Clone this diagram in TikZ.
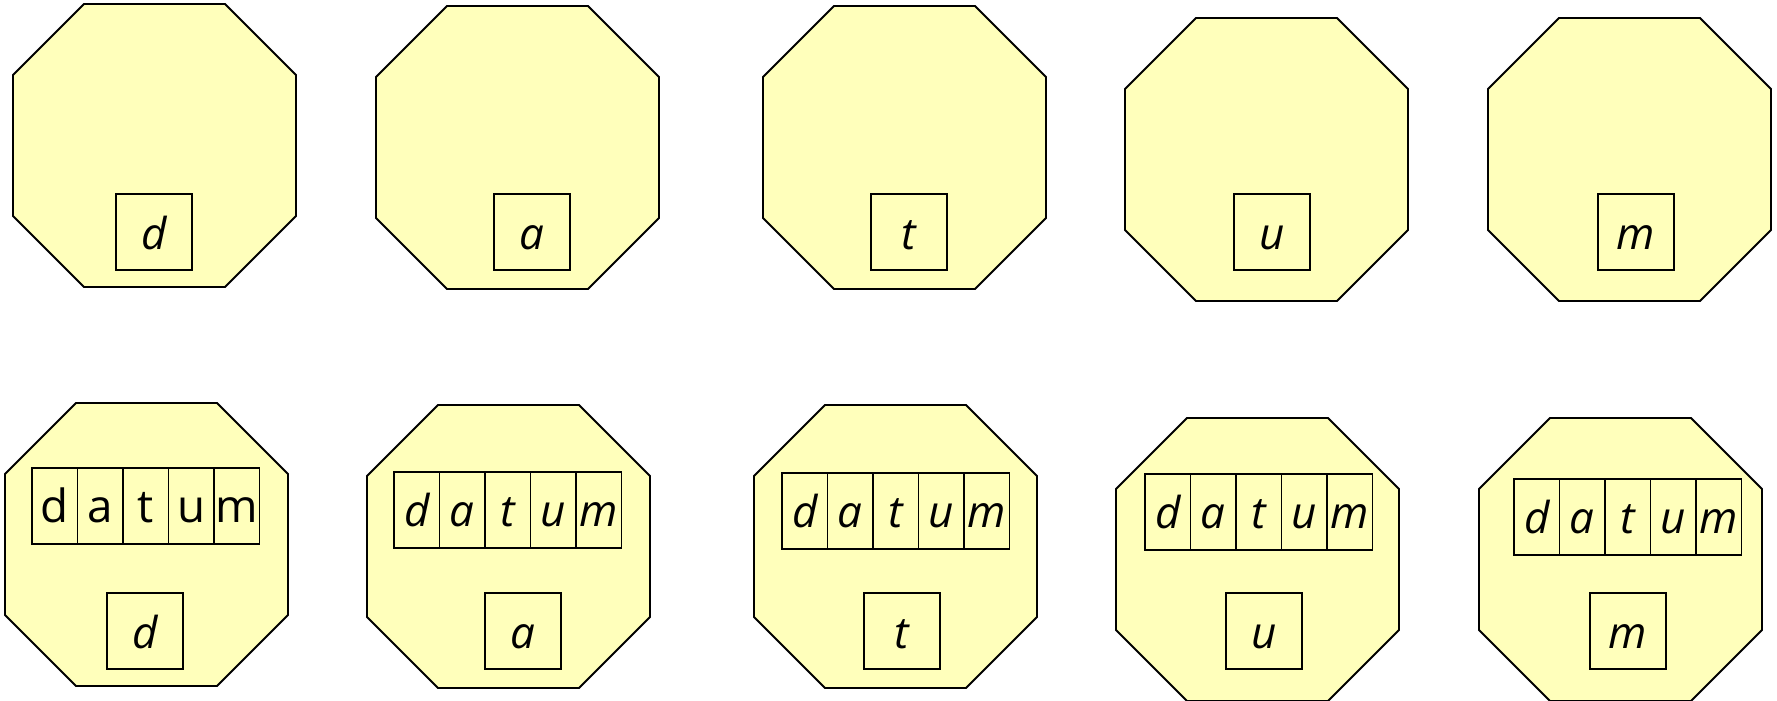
\documentclass[tikz,border=0pt]{standalone}
\usepackage{fontspec}
\setmainfont{Open Sans}
\usetikzlibrary{positioning}
\definecolor{procfill}{RGB}{255,255,187}

\begin{document}
\begin{tikzpicture}[
  x=0.2mm, y=-0.2mm,
  proc/.style={draw, fill=procfill, line width=1.1pt, line join=miter},
  elem/.style={rectangle, draw, line width=0.9pt, minimum width=15.2mm,
               minimum height=15.2mm, inner sep=0pt, text height=6.9mm,
               text depth=0mm, font=\fontsize{25}{29}\selectfont\itshape},
  cell/.style={rectangle, draw, line width=0.9pt, minimum width=9.1mm,
               minimum height=15.2mm, inner sep=0pt, outer sep=0pt,
               text height=6.6mm, text depth=0mm,
               font=\fontsize{25}{29}\selectfont\itshape},
  romancell/.style={cell, text height=6.4mm,
                    font=\fontsize{26}{30}\selectfont\upshape}
]
\useasboundingbox (0,0) rectangle (1777,701);

% processes (octagons), top row then bottom row
\foreach \x/\y in {13/4, 376/6, 763/6, 1125/18, 1488/18,
                   5/403, 367/405, 754/405, 1116/418, 1479/418}
  \draw[proc] (\x+71,\y) -- ++(141,0) -- ++(71,71) -- ++(0,141)
              -- ++(-71,71) -- ++(-141,0) -- ++(-71,-71) -- ++(0,-141) -- cycle;

% Row 1: one element per process
\foreach \i/\x/\l in {1/154/d, 2/532/a, 3/909/t, 4/1272/u, 5/1636/m}
  \node[elem] (send\i) at (\x,232) {\l};

% Row 2: own element
\foreach \i/\x/\l in {1/145/d, 2/523/a, 3/902/t, 4/1264/u, 5/1628/m}
  \node[elem] (own\i) at (\x,631) {\l};

% Row 2: gathered buffer
\foreach \r/\x/\y/\st in {1/32/506/romancell, 2/394/510/cell, 3/782/511/cell,
                          4/1145/512/cell, 5/1514/517/cell} {
  \coordinate (recv\r-0) at (\x,\y);
  \foreach \l [count=\i, remember=\i as \p (initially 0)] in {d,a,t,u,m}
    \node[\st, right=0pt of recv\r-\p] (recv\r-\i) {\l};
}
\end{tikzpicture}
\end{document}
